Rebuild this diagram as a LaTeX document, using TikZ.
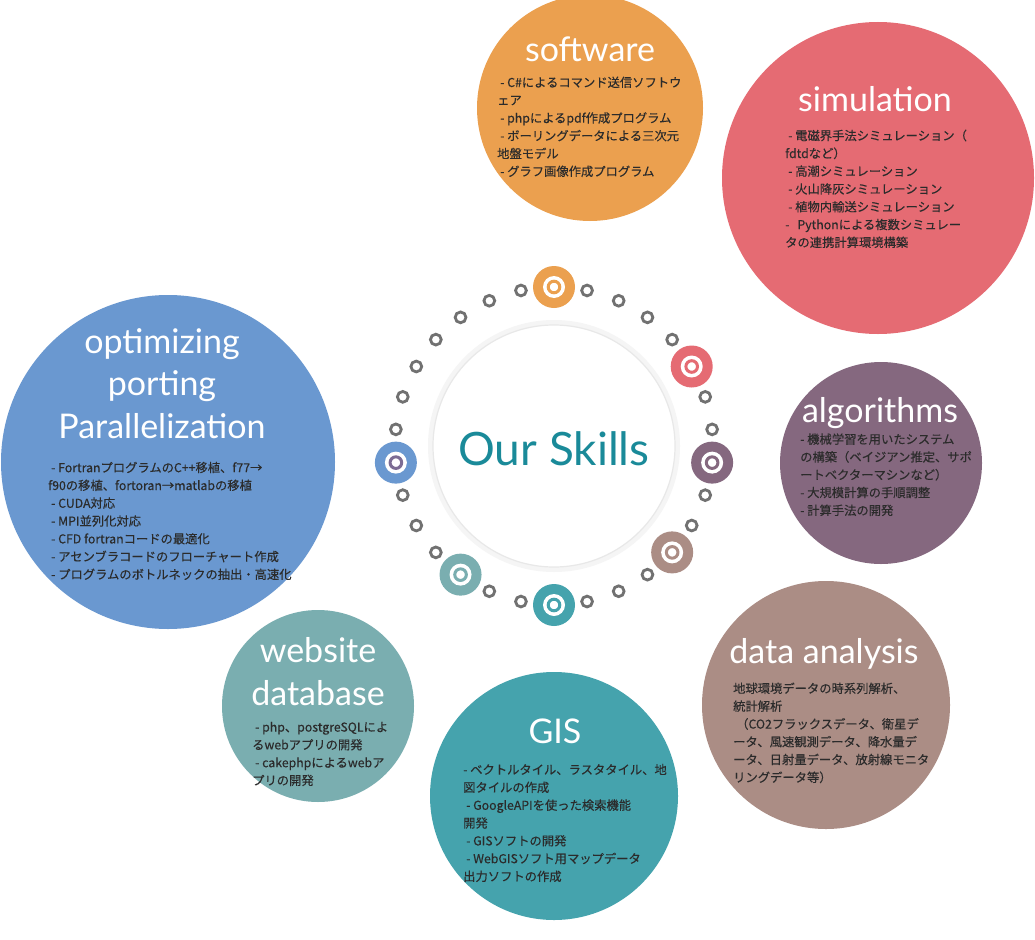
\documentclass[tikz,border=0pt]{standalone}
\usepackage{fontspec}
\setmainfont{Noto Sans CJK JP}[FakeBold=0.25]
\newfontfamily\titlefont{Lato}
\usetikzlibrary{calc,backgrounds}
\definecolor{csoft}{HTML}{EBA04F}
\definecolor{csim}{HTML}{E56B73}
\definecolor{copt}{HTML}{6A98D0}
\definecolor{calg}{HTML}{85687F}
\definecolor{cdata}{HTML}{AB8D85}
\definecolor{cgis}{HTML}{45A3AD}
\definecolor{cweb}{HTML}{7AAEB0}
\definecolor{cinner}{HTML}{7C6C94}
\definecolor{skills}{HTML}{1A8A99}
\definecolor{dotgray}{HTML}{717171}
\definecolor{bodytext}{HTML}{2B2B2B}
\begin{document}
\begin{tikzpicture}[x=1pt,y=-1pt,
  bigc/.style={circle, inner sep=0pt, minimum size=#1},
  markerx/.style 2 args={circle, inner sep=0pt, minimum size=42pt, fill=#1,
    path picture={\fill[white] (path picture bounding box.center) circle[radius=11pt];
      \draw[#2, line width=3pt] (path picture bounding box.center) circle[radius=5.8pt];}},
  conn/.style={line width=2pt},
  dotc/.style={draw=dotgray, line width=2.8pt, fill=white},
  title/.style={font=\titlefont\fontsize{34}{42.5}\selectfont, text=white, inner sep=0pt, anchor=base, align=center},
  body/.style={font=\fontsize{12.3}{17.8}\selectfont, text=bodytext, inner sep=0pt, anchor=base west, align=left}]
\useasboundingbox (0,0) rectangle (1035,939);
\fill[white] (0,0) rectangle (1035,939);

% big circles
\node[bigc=226pt, fill=csoft] (soft) at (590,108) {};
\node[bigc=312pt, fill=csim] (sim) at (878,178) {};
\node[bigc=334pt, fill=copt] (opt) at (168,462) {};
\node[bigc=202pt, fill=calg] (alg) at (881,463) {};
\node[bigc=248pt, fill=cdata] (data) at (826,705) {};
\node[bigc=248pt, fill=cgis] (gis) at (554,796) {};
\node[bigc=192pt, fill=cweb] (web) at (318,706) {};

% centre
\coordinate (c) at (554,446);
\draw[black!4, line width=6pt] (c) circle[radius=123pt];
\node[bigc=242pt, fill=white, draw=black!9, line width=1.2pt] (ctr) at (c) {};
\node[font=\titlefont\fontsize{46}{50}\selectfont, text=skills, anchor=base, inner sep=0pt] (ours) at (554,465) {Our Skills};

% ring of dots
\foreach \a in {6,18,42,54,66,78,102,114,126,138,150,162,174,198,210,222,246,258,282,294,306,330,342}
  \draw[dotc] ($(c)+(\a:159pt)$) circle[radius=5.4pt];

% markers
\node[markerx={csoft}{csoft}] (msoft) at ($(c)+(90:159pt)$) {};
\node[markerx={csim}{csim}] (msim) at ($(c)+(30:159pt)$) {};
\node[markerx={calg}{calg}] (malg) at ($(c)+(354:159pt)$) {};
\node[markerx={cdata}{cdata}] (mdata) at ($(c)+(318:159pt)$) {};
\node[markerx={cgis}{cgis}] (mgis) at ($(c)+(270:159pt)$) {};
\node[markerx={cweb}{cweb}] (mweb) at ($(c)+(234:159pt)$) {};
\node[markerx={copt}{cinner}] (mopt) at ($(c)+(186:159pt)$) {};

% connectors
\begin{pgfonlayer}{background}
\draw[conn, csoft] (msoft.center) -- (msoft |- soft.center);
\draw[conn, csim] (msim.center) -- (sim.center);
\draw[conn, calg] (malg.center) -- (malg -| alg.center);
\draw[conn, cdata] (mdata.center) -- (data.center);
\draw[conn, cgis] (mgis.center) -- (gis.center);
\draw[conn, cweb] (mweb.center) -- (web.center);
\draw[conn, copt] (mopt.center) -- (mopt -| opt.center);
\end{pgfonlayer}

% titles (multi-line nodes: base = last line)
\node[title] (tsoft) at (590,62) {software};
\node[title] (tsim) at (875,112) {simulation};
\node[title] (topt) at (162,438) {optimizing\\porting\\Parallelization};
\node[title] (talg) at (880,422) {algorithms};
\node[title] (tdata) at (824,663) {data analysis};
\node[title] (tgis) at (555,743) {GIS};
\node[title] (tweb) at (318,705) {website\\database};

% bodies (base = last line)
\node[body] (bsoft) at (497,176) {\hspace*{3pt}- C\#によるコマンド送信ソフトウ\\ェア\\\hspace*{3pt}- phpによるpdf作成プログラム\\\hspace*{3pt}- ボーリングデータによる三次元\\地盤モデル\\\hspace*{3pt}- グラフ画像作成プログラム};
\node[body] (bsim) at (785,247) {\hspace*{3pt}- 電磁界手法シミュレーション（\\fdtdなど）\\\hspace*{3pt}- 高潮シミュレーション\\\hspace*{3pt}- 火山降灰シミュレーション\\\hspace*{3pt}- 植物内輸送シミュレーション\\-\hspace*{8pt}Pythonによる複数シミュレー\\タの連携計算環境構築};
\node[body] (bopt) at (48,579) {\hspace*{3pt}- FortranプログラムのC++移植、f77→\\f90の移植、fortoran→matlabの移植\\\hspace*{3pt}- CUDA対応\\\hspace*{3pt}- MPI並列化対応\\\hspace*{3pt}- CFD fortranコードの最適化\\\hspace*{3pt}- アセンブラコードのフローチャート作成\\\hspace*{3pt}- プログラムのボトルネックの抽出・高速化};
\node[body] (balg) at (800,515) {- 機械学習を用いたシステム\\の構築（ベイジアン推定、サポ\\ートベクターマシンなど）\\- 大規模計算の手順調整\\- 計算手法の開発};
\node[body] (bdata) at (733,782) {地球環境データの時系列解析、\\統計解析\\\hspace*{3pt}（CO2フラックスデータ、衛星デ\\ータ、風速観測データ、降水量デ\\ータ、日射量データ、放射線モニタ\\リングデータ等）};
\node[body] (bgis) at (463,881) {- ベクトルタイル、ラスタタイル、地\\図タイルの作成\\\hspace*{3pt}- GoogleAPIを使った検索機能\\開発\\\hspace*{3pt}- GISソフトの開発\\\hspace*{3pt}- WebGISソフト用マップデータ\\出力ソフトの作成};
\node[body] (bweb) at (252,785) {\hspace*{3pt}- php、postgreSQLによ\\るwebアプリの開発\\\hspace*{3pt}- cakephpによるwebア\\プリの開発};
\end{tikzpicture}
\end{document}
